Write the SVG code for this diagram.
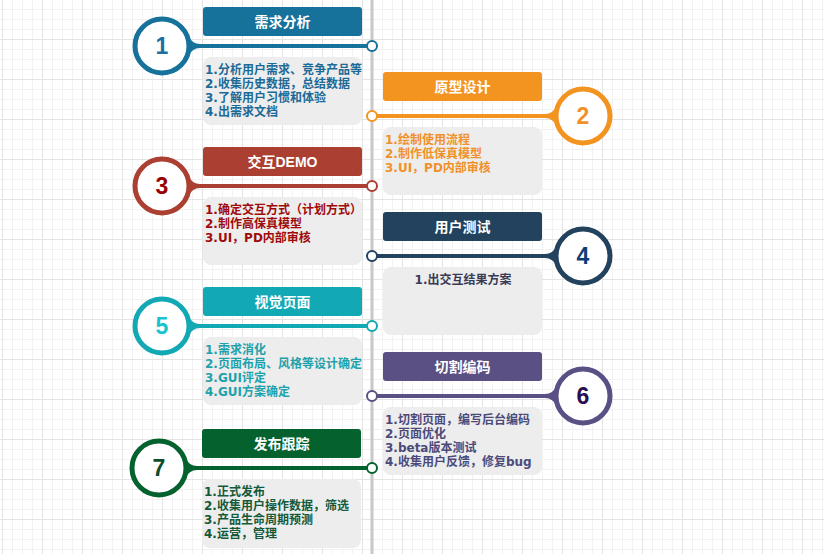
<svg xmlns="http://www.w3.org/2000/svg" width="824" height="554" viewBox="0 0 824 554">
<defs>
<pattern id="grid" patternUnits="userSpaceOnUse" x="2" y="-1" width="40" height="40">
<path d="M10.5 0V40M20.5 0V40M30.5 0V40M0 10.5H40M0 20.5H40M0 30.5H40" stroke="#f2f2f2" stroke-width="1" fill="none"/>
<path d="M0.5 0V40M0 0.5H40" stroke="#e4e4e4" stroke-width="1" fill="none"/>
</pattern>
<style>
.big{fill:#fff;stroke:currentColor;stroke-width:5}
.dot{fill:#fff;stroke:currentColor;stroke-width:2}
.ttl{fill:currentColor}
.box{fill:#ededed}
.tt{font-family:"Liberation Sans","Noto Sans CJK SC",sans-serif;font-weight:bold;font-size:14px;fill:#fff;text-anchor:middle}
.num{font-family:"Liberation Sans","Noto Sans CJK SC",sans-serif;font-weight:bold;font-size:23px;text-anchor:middle}
.bt{font-family:"DejaVu Sans","Noto Sans CJK SC",sans-serif;font-weight:bold;font-size:12px}
.c1{color:#16719b}.c2{color:#f39421}.c3{color:#ab4032}.c4{color:#22425e}.c5{color:#12a9b5}.c6{color:#5a5083}.c7{color:#05622f}
</style>
</defs>
<rect width="824" height="554" fill="#fff"/>
<rect width="824" height="554" fill="url(#grid)"/>
<g id="connectors">
<line x1="372" y1="0" x2="372" y2="554" stroke="#c8c8c8" stroke-width="3"/>
<path class="c1" fill="currentColor" d="M188 35.5Q192 44 200 44L372 44L372 48L200 48Q192 48 188 56.5Z"/>
<path class="c2" fill="currentColor" d="M557 105.5Q553 114 545 114L372 114L372 118L545 118Q553 118 557 126.5Z"/>
<path class="c3" fill="currentColor" d="M188 175.5Q192 184 200 184L372 184L372 188L200 188Q192 188 188 196.5Z"/>
<path class="c4" fill="currentColor" d="M557 245.5Q553 254 545 254L372 254L372 258L545 258Q553 258 557 266.5Z"/>
<path class="c5" fill="currentColor" d="M188 315.5Q192 324 200 324L372 324L372 328L200 328Q192 328 188 336.5Z"/>
<path class="c6" fill="currentColor" d="M557 385.5Q553 394 545 394L372 394L372 398L545 398Q553 398 557 406.5Z"/>
<path class="c7" fill="currentColor" d="M185 457.5Q189 466 197 466L372 466L372 470L197 470Q189 470 185 478.5Z"/>
</g>
<g id="node1" class="c1" transform="translate(0,46)">
<circle class="big" cx="162" cy="0" r="27"/>
<text class="num" x="162" y="8" fill="#1c6ea4">1</text>
<circle class="dot" cx="372" cy="0" r="5"/>
<rect class="ttl" x="203" y="-39" width="159" height="29" rx="3"/>
<text class="tt" x="282.5" y="-19.5">需求分析</text>
<rect class="box" x="203" y="11" width="159" height="68" rx="8"/>
<g class="bt" fill="#1b6a98">
<text x="205" y="27.5">1.分析用户需求、竞争产品等</text>
<text x="205" y="41.5">2.收集历史数据，总结数据</text>
<text x="205" y="55.5">3.了解用户习惯和体验</text>
<text x="205" y="69.5">4.出需求文档</text>
</g>
</g>
<g id="node2" class="c2" transform="translate(0,116)">
<circle class="big" cx="583" cy="0" r="27"/>
<text class="num" x="583" y="8" fill="#f0922b">2</text>
<circle class="dot" cx="372" cy="0" r="5"/>
<rect class="ttl" x="383" y="-44" width="159" height="29" rx="3"/>
<text class="tt" x="462.5" y="-24.5">原型设计</text>
<rect class="box" x="383" y="11" width="159" height="68" rx="8"/>
<g class="bt" fill="#f0912a">
<text x="385" y="27.5">1.绘制使用流程</text>
<text x="385" y="41.5">2.制作低保真模型</text>
<text x="385" y="55.5">3.UI，PD内部审核</text>
</g>
</g>
<g id="node3" class="c3" transform="translate(0,186)">
<circle class="big" cx="162" cy="0" r="27"/>
<text class="num" x="162" y="8" fill="#990000">3</text>
<circle class="dot" cx="372" cy="0" r="5"/>
<rect class="ttl" x="203" y="-39" width="159" height="29" rx="3"/>
<text class="tt" x="282.5" y="-19.5">交互DEMO</text>
<rect class="box" x="203" y="11" width="159" height="68" rx="8"/>
<g class="bt" fill="#9e0a0a">
<text x="205" y="27.5">1.确定交互方式（计划方式）</text>
<text x="205" y="41.5">2.制作高保真模型</text>
<text x="205" y="55.5">3.UI，PD内部审核</text>
</g>
</g>
<g id="node4" class="c4" transform="translate(0,256)">
<circle class="big" cx="583" cy="0" r="27"/>
<text class="num" x="583" y="8" fill="#0c3c78">4</text>
<circle class="dot" cx="372" cy="0" r="5"/>
<rect class="ttl" x="383" y="-44" width="159" height="29" rx="3"/>
<text class="tt" x="462.5" y="-24.5">用户测试</text>
<rect class="box" x="383" y="11" width="159" height="68" rx="8"/>
<text class="bt" x="463" y="28" fill="#3a3a55" text-anchor="middle">1.出交互结果方案</text>
</g>
<g id="node5" class="c5" transform="translate(0,326)">
<circle class="big" cx="162" cy="0" r="27"/>
<text class="num" x="162" y="8" fill="#18c4cf">5</text>
<circle class="dot" cx="372" cy="0" r="5"/>
<rect class="ttl" x="203" y="-39" width="159" height="29" rx="3"/>
<text class="tt" x="282.5" y="-19.5">视觉页面</text>
<rect class="box" x="203" y="11" width="159" height="68" rx="8"/>
<g class="bt" fill="#1da2ab">
<text x="205" y="27.5">1.需求消化</text>
<text x="205" y="41.5">2.页面布局、风格等设计确定</text>
<text x="205" y="55.5">3.GUI评定</text>
<text x="205" y="69.5">4.GUI方案确定</text>
</g>
</g>
<g id="node6" class="c6" transform="translate(0,396)">
<circle class="big" cx="583" cy="0" r="27"/>
<text class="num" x="583" y="8" fill="#2b0d52">6</text>
<circle class="dot" cx="372" cy="0" r="5"/>
<rect class="ttl" x="383" y="-44" width="159" height="29" rx="3"/>
<text class="tt" x="462.5" y="-24.5">切割编码</text>
<rect class="box" x="383" y="11" width="159" height="68" rx="8"/>
<g class="bt" fill="#4b4a7a">
<text x="385" y="27.5">1.切割页面，编写后台编码</text>
<text x="385" y="41.5">2.页面优化</text>
<text x="385" y="55.5">3.beta版本测试</text>
<text x="385" y="69.5">4.收集用户反馈，修复bug</text>
</g>
</g>
<g id="node7" class="c7" transform="translate(0,468)">
<circle class="big" cx="159" cy="0" r="27"/>
<text class="num" x="159" y="8" fill="#0b4d2a">7</text>
<circle class="dot" cx="372" cy="0" r="5"/>
<rect class="ttl" x="202" y="-39" width="159" height="29" rx="3"/>
<text class="tt" x="281.5" y="-19.5">发布跟踪</text>
<rect class="box" x="202" y="11" width="159" height="69" rx="8"/>
<g class="bt" fill="#145a3a">
<text x="204" y="27.5">1.正式发布</text>
<text x="204" y="41.5">2.收集用户操作数据，筛选</text>
<text x="204" y="55.5">3.产品生命周期预测</text>
<text x="204" y="69.5">4.运营，管理</text>
</g>
</g>
</svg>
